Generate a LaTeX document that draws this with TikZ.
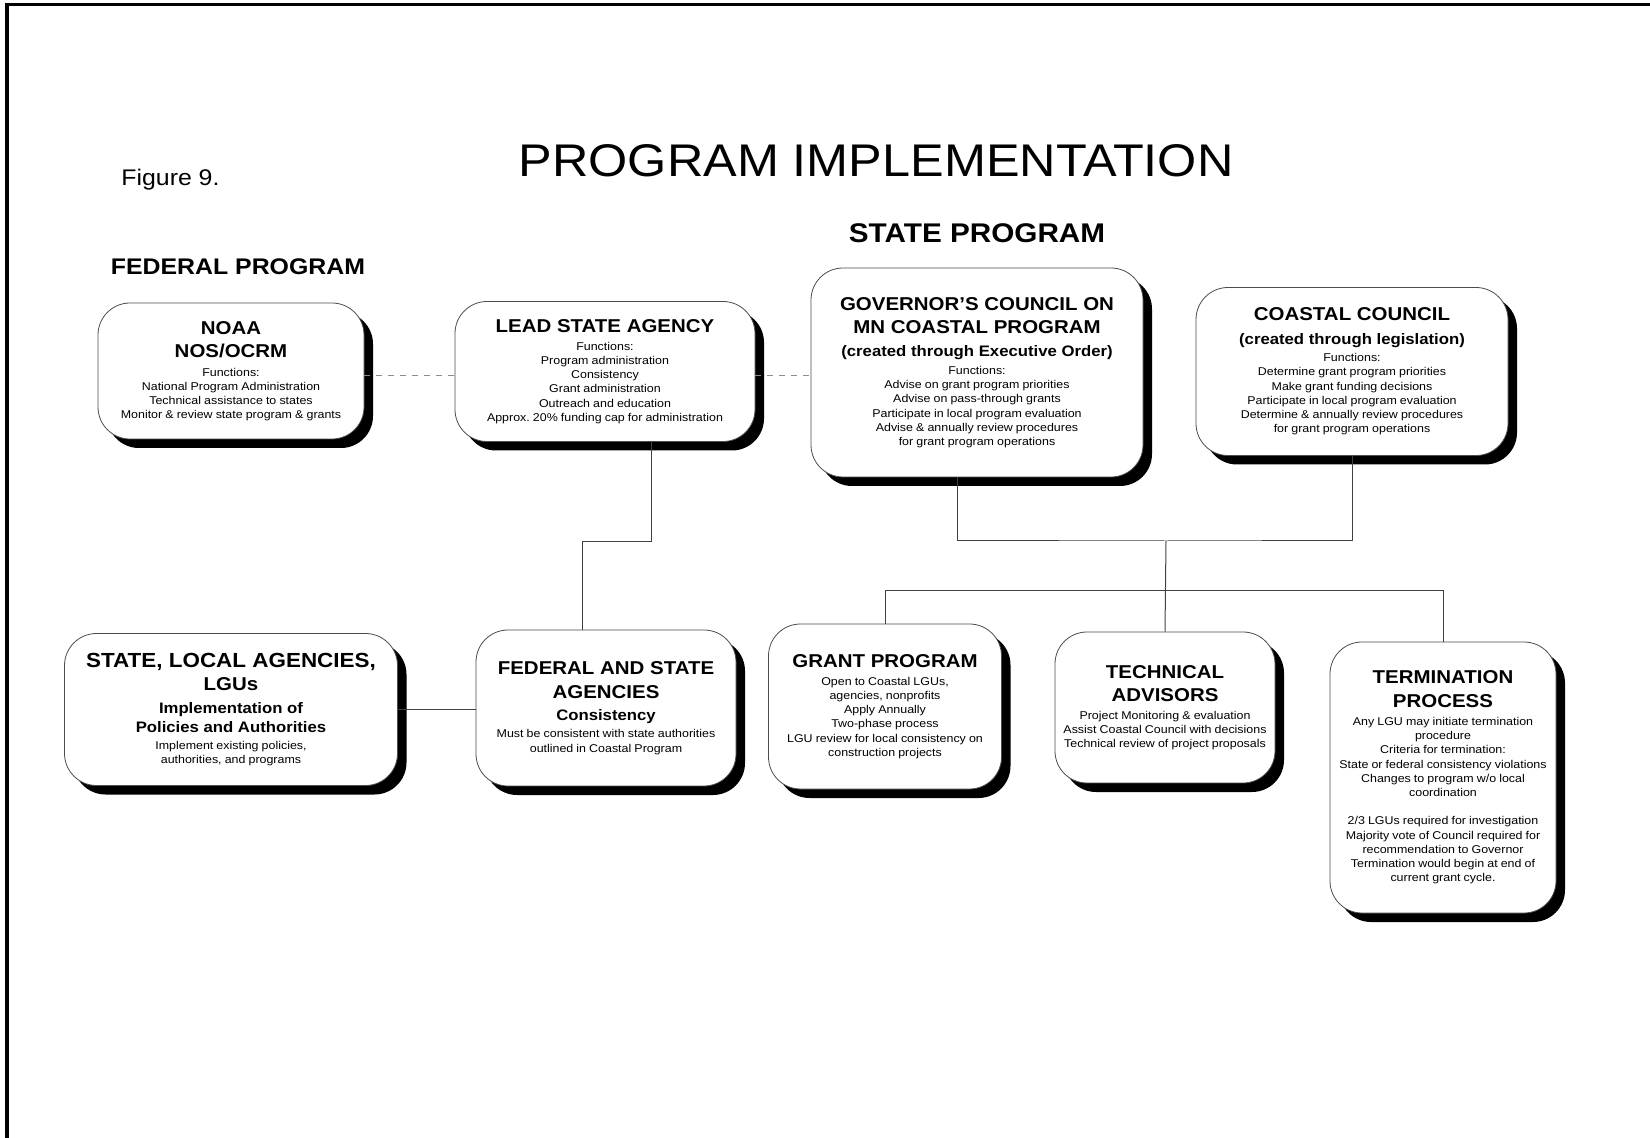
\documentclass[tikz,border=0pt]{standalone}
\usepackage{fontspec}
\setmainfont{Liberation Sans}[FakeStretch=1.1]
\usetikzlibrary{shadows}

\newcommand{\orghead}{\fontsize{9.3}{11.7}\selectfont\bfseries}
\newcommand{\orgsub}{\fontsize{7.6}{9.5}\selectfont\bfseries}
\newcommand{\orgtext}{\fontsize{5.65}{7.1}\selectfont\frenchspacing\spaceskip=1.55pt\relax}

\tikzset{
  orgbox/.style={draw=black!70, line width=0.4pt, fill=white, rounded corners=16pt,
    align=flush center, inner sep=0pt,
    drop shadow={shadow xshift=4.5pt, shadow yshift=-4.5pt, fill=black, opacity=1}},
  link/.style={draw=black!75, line width=0.5pt},
  faintlink/.style={draw=black!45, line width=0.4pt, dashed},
}

\begin{document}
\begin{tikzpicture}[x=0.5pt, y=-0.5pt]
  \useasboundingbox (0,0) rectangle (1650,1138);
  \draw[line width=1.7pt] (7,1138) -- (7,4.5) -- (1650,4.5);

  % headings
  \node (title) at (876,161) {\fontsize{22.9}{27}\selectfont PROGRAM IMPLEMENTATION};
  \node (fig) [anchor=base west, inner sep=0pt] at (121,186) {\fontsize{11.3}{13}\selectfont Figure 9.};
  \node (statehd) at (977,233) {\fontsize{13.5}{16}\selectfont\bfseries STATE PROGRAM};
  \node (fedhd) at (238,267) {\fontsize{11.3}{14}\selectfont\bfseries FEDERAL PROGRAM};

  % top row
  \node (noaa) [orgbox, text width=133pt, minimum height=68pt] at (231,371)
    {{\orghead NOAA\\NOS/OCRM\par}\vspace{2.2pt}
     {\orgtext Functions:\\National Program Administration\\Technical assistance to states\\Monitor \& review state program \& grants\par}};
  \node (lead) [orgbox, text width=150pt, minimum height=70pt] at (605,371.5)
    {{\orghead LEAD STATE AGENCY\par}\vspace{1.8pt}
     {\orgtext Functions:\\Program administration\\Consistency\\Grant administration\\Outreach and education\\Approx. 20\% funding cap for administration\par}};
  \node (gov) [orgbox, text width=166pt, minimum height=104.5pt] at (977,372.5)
    {{\orghead GOVERNOR'S COUNCIL ON\\MN COASTAL PROGRAM\par}\vspace{2.1pt}
     {\orgsub (created through Executive Order)\par}\vspace{1.7pt}
     {\orgtext Functions:\\Advise on grant program priorities\\Advise on pass-through grants\\Participate in local program evaluation\\Advise \& annually review procedures\\for grant program operations\par}};
  \node (coastal) [orgbox, text width=156pt, minimum height=84pt] at (1352,371.5)
    {{\orghead COASTAL COUNCIL\par}\vspace{2.1pt}
     {\orgsub (created through legislation)\par}\vspace{1.7pt}
     {\orgtext Functions:\\Determine grant program priorities\\Make grant funding decisions\\Participate in local program evaluation\\Determine \& annually review procedures\\for grant program operations\par}};

  % bottom row
  \node (local) [orgbox, text width=166.5pt, minimum height=76pt] at (231,709.5)
    {{\orghead\fontsize{10.2}{11.7}\selectfont STATE, LOCAL AGENCIES,\par}
     {\orghead LGUs\par}\vspace{2.1pt}
     {\orgsub Implementation of\\Policies and Authorities\par}\vspace{1.2pt}
     {\orgtext Implement existing policies,\\authorities, and programs\par}};
  \node (fed) [orgbox, text width=130pt, minimum height=78pt] at (606,708)
    {{\orghead FEDERAL AND STATE\\AGENCIES\par}\vspace{1.5pt}
     {\orgsub Consistency\par}\vspace{1.8pt}
     {\orgtext Must be consistent with state authorities\\outlined in Coastal Program\par}};
  \node (grant) [orgbox, text width=116.5pt, minimum height=82.5pt] at (885,706.5)
    {{\orghead GRANT PROGRAM\par}\vspace{1.8pt}
     {\orgtext Open to Coastal LGUs,\\agencies, nonprofits\\Apply Annually\\Two-phase process\\LGU review for local consistency on\\construction projects\par}};
  \node (tech) [orgbox, text width=110pt, minimum height=75.5pt] at (1165,707.5)
    {{\orghead TECHNICAL\\ADVISORS\par}\vspace{1.8pt}
     {\orgtext Project Monitoring \& evaluation\\Assist Coastal Council with decisions\\Technical review of project proposals\par}};
  \node (term) [orgbox, text width=113pt, minimum height=135.5pt] at (1443,777.5)
    {{\orghead TERMINATION\\PROCESS\par}\vspace{2.0pt}
     {\orgtext Any LGU may initiate termination\\procedure\\Criteria for termination:\\State or federal consistency violations\\Changes to program w/o local\\coordination\\[7.1pt]
      2/3 LGUs required for investigation\\Majority vote of Council required for\\recommendation to Governor\\Termination would begin at end of\\current grant cycle.\par}};

  % connectors
  \coordinate (leadjoin) at (651,542);
  \coordinate (cjoin) at (1166,541);
  \coordinate (bus) at (1166,591);

  \draw[faintlink] ([yshift=-2pt]noaa.east |- lead.west) -- ([yshift=-2pt]lead.west);
  \draw[faintlink] ([yshift=-2pt]lead.east) -- ([yshift=-2pt]lead.east -| gov.west);
  \draw[link] (leadjoin |- lead.south) -- (leadjoin) -| ([xshift=-12pt]fed.north);
  \draw[link] (local.east) -- (local.east -| fed.west);
  \draw[link] ([xshift=-10pt]gov.south) |- (cjoin) -| (coastal.south);
  \draw[link] (cjoin) -- (tech.north);
  \draw[link] (grant.north) |- (term.north |- bus) -- (term.north);
\end{tikzpicture}
\end{document}
